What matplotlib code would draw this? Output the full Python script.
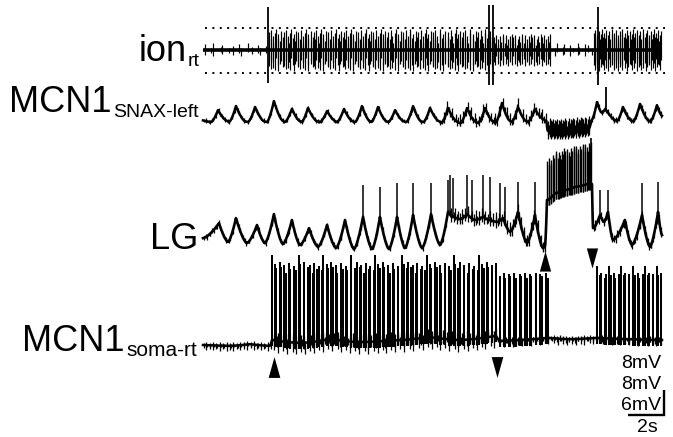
import numpy as np
import matplotlib
matplotlib.use("Agg")
import matplotlib.pyplot as plt
from matplotlib.path import Path

plt.rcParams["font.family"] = ["Liberation Sans", "DejaVu Sans"]

# ------------------------------------------------------------------ data
# time in s (0 = start of traces); voltages in mV

# ---- ion_rt (extracellular, arbitrary units)
ion_burst_start = [0.10, 3.66, 16.16, 19.30, 21.70]
ion_burst_stop = [3.50, 16.05, 19.28, 21.60, 25.45]
ion_burst_count = [14, 180, 48, 12, 66]
ion_up_pattern = [[6, 2, 7, 3, 5, 2, 4],
                  [18, 11, 20, 14, 7, 17, 21, 12, 16, 9, 19, 13],
                  [13, 7, 15, 5, 11, 14, 8, 16],
                  [5, 2, 7, 3, 6],
                  [17, 12, 20, 9, 15, 19, 11, 16, 21, 13]]
ion_dn_pattern = [[5, 3, 6, 2, 4, 3],
                  [16, 19, 10, 18, 12, 20, 8, 15, 21, 14, 11, 17],
                  [12, 15, 6, 14, 9, 16, 10],
                  [4, 6, 2, 5],
                  [15, 20, 10, 18, 13, 21, 9, 17, 14]]
ion_big_t = [3.61, 15.89, 16.11, 21.94]
ion_big_up = [43, 45, 45, 43]
ion_big_dn = [33, 35, 35, 35]
ion_levels = [22, -23]
spike_jitter = [0.0, 0.35, -0.25, 0.45, -0.4, 0.15, -0.1, 0.3, -0.3, 0.2]

# ---- MCN1 SNAX-left (mV): knots (troughs / peaks)
snax_t = [0.00, 0.45, 0.83, 1.35, 1.45, 1.83, 2.35, 2.50, 2.89, 3.40, 3.55, 3.94,
          4.45, 4.55, 4.94, 5.40, 5.48, 5.83, 6.35, 6.50, 6.89, 7.38, 7.45, 7.83,
          8.32, 8.45, 8.83, 9.28, 9.35, 9.72, 10.2, 10.3, 10.67, 11.15, 11.3, 11.67,
          12.12, 12.25, 12.61, 13.1, 13.25, 13.61, 14.1, 14.3, 14.67, 15.12, 15.3,
          15.67, 16.1, 16.25, 16.61, 17.05, 17.15, 17.50, 17.95, 18.05, 18.44, 18.9,
          19.08, 19.15, 19.6, 20.2, 20.8, 21.45, 21.58, 21.89, 22.15, 22.35, 22.45,
          22.9, 23.0, 23.33, 23.8, 23.9, 24.28, 24.75, 24.85, 25.22, 25.50]
snax_mv = [0.5, 0.0, 3.8, 0.3, 0.0, 5.1, 0.2, 0.0, 4.8, 0.2, 0.0, 6.7,
           0.3, 0.0, 4.2, 0.2, 0.0, 4.5, 0.2, 0.0, 3.5, 0.2, 0.0, 4.2,
           0.2, 0.0, 5.1, 0.2, 0.0, 4.8, 0.2, 0.0, 3.8, 0.2, 0.0, 5.1,
           0.2, 0.0, 4.5, 0.3, -0.3, 4.5, 0.2, -0.4, 4.5, 0.2, -0.3,
           4.5, 0.3, -0.3, 6.1, 0.4, 0.0, 4.8, 0.3, 0.0, 4.2, 1.0,
           0.3, -2.8, -3.0, -2.8, -2.5, -2.0, 0.5, 6.4, 3.0, 4.2, 3.5,
           0.6, 0.3, 4.8, 0.5, 0.2, 5.8, 0.5, 0.2, 5.4, 2.0]
snax_spike_t = [22.39]
snax_spike_mv = [11.2]
snax_noise_start = [0.05, 13.3, 19.15, 21.6]
snax_noise_stop = [13.3, 19.05, 21.45, 25.45]
snax_noise_count = [150, 80, 75, 50]
snax_noise_up = [[0.5, 0.9, 0.3, 0.7],
                 [0.8, 2.2, 0.5, 1.6, 3.0, 1.0, 0.4, 2.6, 1.2],
                 [1.5, 3.2, 2.0, 4.0, 2.5, 1.2, 3.6],
                 [0.6, 1.2, 0.4, 0.9]]
snax_noise_dn = [[0.4, 0.7, 0.3],
                 [0.6, 1.4, 0.3, 1.0, 0.8],
                 [1.5, 2.5, 1.0, 2.0, 1.2],
                 [0.5, 0.9, 0.4]]

# ---- LG (mV): knots
lg_t = [0.00, 0.89, 1.39, 1.83, 2.44, 3.00, 3.44, 3.94, 4.44, 4.94, 5.39, 5.89,
        6.39, 6.89, 7.39, 7.89, 8.39, 8.89, 9.39, 9.83, 10.33, 10.78, 11.22, 11.67,
        12.17, 12.67, 13.17, 13.61, 13.83, 14.28, 14.67, 15.11, 15.56, 15.94, 16.33,
        16.67, 17.06, 17.50, 18.00, 18.44, 18.89, 19.00, 19.11, 19.56, 20.11, 20.67,
        21.50, 21.61, 21.67, 22.06, 22.28, 22.50, 22.78, 23.44, 23.83, 24.39, 24.83,
        25.28, 25.50]
lg_mv = [2.2, 7.0, 1.0, 8.6, 0.6, 6.4, 0.6, 9.9, 0.3, 8.0, 0.0, 5.4,
         -0.6, 6.4, -1.0, 8.0, -1.3, 9.0, -1.3, 9.0, -1.3, 9.0, -1.0, 9.6,
         -1.0, 9.9, 0.0, 10.6, 9.3, 8.3, 9.9, 8.0, 9.0, 8.0, 7.4,
         8.6, 4.2, 10.6, 0.6, 9.6, -1.0, -0.3, 14.4, 16.6, 17.6, 18.6,
         19.8, 19.5, 5.4, 9.6, 7.4, 10.6, 1.6, 8.0, 0.0, 9.6, -0.6,
         10.6, 3.2]
lg_spike_t = [8.89, 9.83, 10.78, 11.67, 12.67, 13.61, 13.72, 13.89, 14.67, 14.94,
              15.56, 15.94, 16.50, 16.78, 17.50, 18.44, 22.06, 22.50, 24.39, 25.28]
lg_spike_mv = [19.2, 18.6, 19.8, 19.8, 19.8, 20.8, 22.4, 21.4, 22.4, 20.8,
               22.4, 21.8, 19.8, 18.6, 20.2, 20.2, 17.6, 17.6, 19.8, 20.2]
lg_plateau_start, lg_plateau_stop, lg_plateau_count = 19.13, 21.56, 40
lg_plateau_height = [12.5, 11.0, 13.0, 12.0, 10.5, 12.8, 11.8, 13.4]
lg_noise_start = [0.05, 13.7, 21.7]
lg_noise_stop = [13.6, 19.0, 25.45]
lg_noise_count = [150, 70, 50]
lg_noise_up = [[0.5, 1.0, 0.3, 0.8], [1.2, 2.5, 0.8, 1.8, 3.0], [0.8, 1.6, 0.5, 1.2]]
lg_noise_dn = [[0.7, 0.4, 1.0, 0.5], [1.0, 2.0, 0.6, 1.5], [0.9, 1.5, 0.6]]

# ---- MCN1 soma-rt (mV)
soma_t = [0.00, 1.50, 2.61, 3.72, 3.83, 5.39, 7.06, 8.72, 10.94, 12.61, 14.28,
          16.28, 16.50, 19.17, 20.39, 21.89, 23.72, 25.50]
soma_mv = [0.0, -0.2, 0.2, -0.2, 1.2, 0.5, 1.4, 0.7, 1.2, 1.9, 1.2,
           2.2, 1.0, 1.7, 1.4, 1.7, 1.4, 1.2]
soma_burst_start = [3.84, 16.52, 21.90]
soma_burst_stop = [16.26, 19.15, 25.45]
soma_burst_count = [96, 19, 28]
soma_top_pattern = [[21.6, 19.5, 18.5, 20.0, 18.8, 19.2, 17.4, 19.8, 18.2, 19.0, 17.9],
                    [16.5, 17.2, 16.0, 17.0],
                    [18.9, 16.8, 17.3, 16.2, 17.0]]
soma_noise_start = [0.05, 3.85, 16.4]
soma_noise_stop = [3.75, 16.3, 25.45]
soma_noise_count = [40, 150, 110]
soma_noise_up = [[0.4, 0.8, 0.3, 0.6], [0.8, 1.6, 0.5, 1.2, 2.0], [0.4, 0.8, 0.3, 0.6]]
soma_noise_dn = [[0.6, 1.2, 0.4, 0.9], [1.2, 2.2, 0.8, 1.6, 2.8, 1.0], [0.6, 1.2, 0.4, 0.9, 1.5, 0.5]]

# ---- arrows and scale bar
soma_arrow_t = [3.94, 16.33]
soma_arrow_dir = ["up", "down"]
lg_arrow_t = [19.00, 21.61]
lg_arrow_dir = ["up", "down"]
scale_t, scale_mv = 2.0, 6.0
scale_labels = ["8mV", "8mV", "6mV"]
time_label = "2s"

# ------------------------------------------------------------------ layout
W, H = 673, 437
X0, PXS = 203.0, 18.0          # px of t=0, px per second

fig = plt.figure(figsize=(W / 100, H / 100), dpi=100)
K = "black"


def make_axes(offset_px, px_per_unit):
    ax = fig.add_axes([0, 0, 1, 1])
    ax.set_xlim(-X0 / PXS, (W - X0) / PXS)
    ax.set_ylim((offset_px - H) / px_per_unit, offset_px / px_per_unit)
    ax.axis("off")
    ax.patch.set_alpha(0)
    return ax


def train(start, stop, n, jitter=spike_jitter):
    base = np.linspace(start, stop, n)
    step = (stop - start) / max(n - 1, 1)
    j = np.resize(np.asarray(jitter, float), n) * step
    j[0] = 0
    j[-1] = 0
    return base + j


def shaped(tk, vk, n=10, p=1.5):
    """Line through the knots: sharp peaks, rounded troughs."""
    ts, vs = [tk[0]], [vk[0]]
    f = np.linspace(0, 1, n + 1)[1:]
    for ta, va, tb, vb in zip(tk[:-1], vk[:-1], tk[1:], vk[1:]):
        if vb >= va:
            v = va + (vb - va) * f ** p
        else:
            v = vb + (va - vb) * (1 - f) ** p
        ts.extend(ta + (tb - ta) * f)
        vs.extend(v)
    return np.array(ts), np.array(vs)


def add_noise(ax, ct, cv, starts, stops, counts, ups, dns, lw=0.9):
    for s, e, n, up, dn in zip(starts, stops, counts, ups, dns):
        ts = train(s, e, n)
        b = np.interp(ts, ct, cv)
        ax.vlines(ts, b - np.resize(dn, n), b + np.resize(up, n), color=K, lw=lw)


# ---- ion
ax_ion = make_axes(50, 1.0)
t_end = snax_t[-1]
ax_ion.plot([0, t_end], [0, 0], color=K, lw=2.6, solid_capstyle="butt")
for s, e, n, up, dn in zip(ion_burst_start, ion_burst_stop, ion_burst_count,
                           ion_up_pattern, ion_dn_pattern):
    ts = train(s, e, n)
    ax_ion.vlines(ts, -np.resize(dn, n), np.resize(up, n), color=K, lw=0.85)
ax_ion.vlines(ion_big_t, -np.array(ion_big_dn), ion_big_up, color=K, lw=1.3)
for lev in ion_levels:
    ax_ion.plot([0.1, t_end + 0.15], [lev, lev], color=K, lw=1.4,
                linestyle=(0, (1, 2.8)))

# ---- SNAX
ax_snax = make_axes(122, 25 / 8)
ct, cv = shaped(snax_t, snax_mv)
ax_snax.plot(ct, cv, color=K, lw=1.8, solid_joinstyle="round")
add_noise(ax_snax, ct, cv, snax_noise_start, snax_noise_stop, snax_noise_count,
          snax_noise_up, snax_noise_dn)
b = np.interp(snax_spike_t, ct, cv)
ax_snax.vlines(snax_spike_t, b, snax_spike_mv, color=K, lw=1.3)

# ---- LG
ax_lg = make_axes(245, 25 / 8)
ct, cv = shaped(lg_t, lg_mv)
ax_lg.plot(ct, cv, color=K, lw=1.9, solid_joinstyle="round")
add_noise(ax_lg, ct, cv, lg_noise_start, lg_noise_stop, lg_noise_count,
          lg_noise_up, lg_noise_dn)
b = np.interp(lg_spike_t, ct, cv)
ax_lg.vlines(lg_spike_t, b, lg_spike_mv, color=K, lw=1.1)
ts = train(lg_plateau_start, lg_plateau_stop, lg_plateau_count)
b = np.interp(ts, ct, cv)
ax_lg.vlines(ts, b - 2.0, b + np.resize(lg_plateau_height, len(ts)), color=K, lw=1.0)
ax_lg.vlines(lg_plateau_stop, np.interp(lg_plateau_stop, ct, cv), 34.2,
             color=K, lw=1.2)

# ---- soma
ax_soma = make_axes(345, 25 / 6)
ct, cv = shaped(soma_t, soma_mv)
ax_soma.plot(ct, cv, color=K, lw=1.8, solid_joinstyle="round")
add_noise(ax_soma, ct, cv, soma_noise_start, soma_noise_stop, soma_noise_count,
          soma_noise_up, soma_noise_dn)
for s, e, n, tops in zip(soma_burst_start, soma_burst_stop, soma_burst_count,
                         soma_top_pattern):
    ts = train(s, e, n)
    b = np.interp(ts, ct, cv)
    ax_soma.vlines(ts, b - 1.5, np.resize(tops, n), color=K, lw=1.45)

# ---- arrowheads
up_marker = Path([(-0.28, -0.5), (0.28, -0.5), (0, 0.5), (-0.28, -0.5)],
                 [Path.MOVETO, Path.LINETO, Path.LINETO, Path.CLOSEPOLY])
dn_marker = Path([(-0.28, 0.5), (0.28, 0.5), (0, -0.5), (-0.28, 0.5)],
                 [Path.MOVETO, Path.LINETO, Path.LINETO, Path.CLOSEPOLY])
for t, d in zip(soma_arrow_t, soma_arrow_dir):
    ax_soma.plot([t], [-5.2], marker=up_marker if d == "up" else dn_marker,
                 ms=15, color=K, mec=K, mew=0, linestyle="none")
for t, d, yv in zip(lg_arrow_t, lg_arrow_dir, [-5.1, -4.3]):
    ax_lg.plot([t], [yv], marker=up_marker if d == "up" else dn_marker,
               ms=14.5, color=K, mec=K, mew=0, linestyle="none")

# ---- scale bar (in soma units)
xb = (664 - X0) / PXS
yb = (345 - 415) / (25 / 6)
ax_soma.plot([xb - scale_t, xb, xb], [yb, yb, yb + scale_mv], color=K, lw=1.7,
             solid_joinstyle="miter", solid_capstyle="butt")


def fx(px):
    return px / W


def fy(py):
    return 1 - py / H


for lab, yb_px in zip(scale_labels, [368, 389, 410]):
    fig.text(fx(661), fy(yb_px), lab, ha="right", va="baseline", fontsize=14)
fig.text(fx(647), fy(432), time_label, ha="center", va="baseline", fontsize=14)

# ---- trace labels
MAIN = 26


def label(main, sub, right_px, base_px, sub_size=14, drop_px=5):
    if sub:
        st = fig.text(fx(right_px), fy(base_px + drop_px), sub, ha="right",
                      va="baseline", fontsize=sub_size)
        fig.canvas.draw()
        bb = st.get_window_extent()
        fig.text(bb.x0 / W - 1.5 / W, fy(base_px), main, ha="right",
                 va="baseline", fontsize=MAIN)
    else:
        fig.text(fx(right_px), fy(base_px), main, ha="right", va="baseline",
                 fontsize=MAIN)


label("ion", "rt", 200, 61)
label("MCN1", "SNAX-left", 199, 112)
label("LG", None, 198, 249)
label("MCN1", "soma-rt", 197, 351, sub_size=15)

fig.savefig("out.png", dpi=100, facecolor="white")
